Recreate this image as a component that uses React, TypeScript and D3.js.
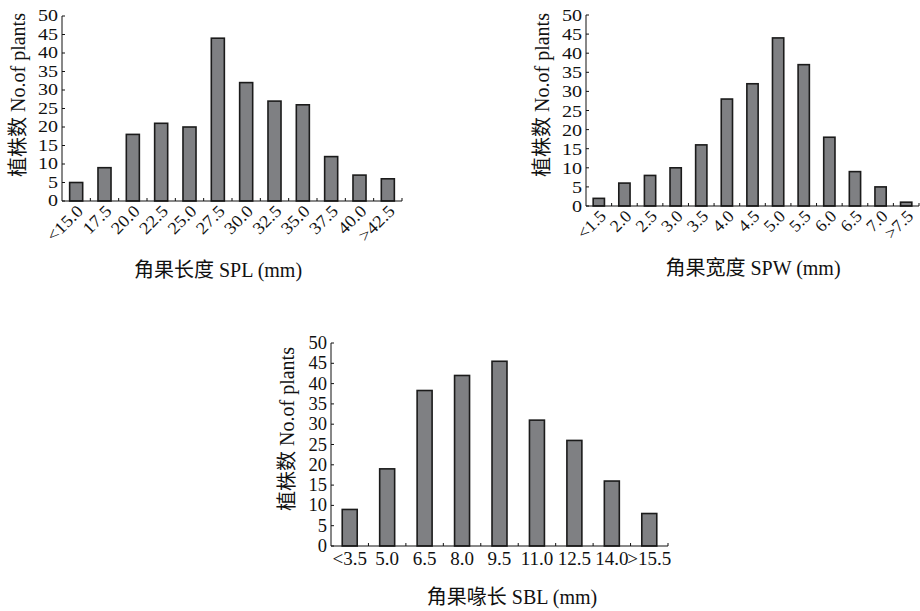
import React from "react";
import * as d3 from "d3";

// 角果长度 SPL
const splCats = ["<15.0", "17.5", "20.0", "22.5", "25.0", "27.5", "30.0", "32.5", "35.0", "37.5", "40.0", ">42.5"];
const splVals = [5, 9, 18, 21, 20, 44, 32, 27, 26, 12, 7, 6];

// 角果宽度 SPW
const spwCats = ["<1.5", "2.0", "2.5", "3.0", "3.5", "4.0", "4.5", "5.0", "5.5", "6.0", "6.5", "7.0", ">7.5"];
const spwVals = [2, 6, 8, 10, 16, 28, 32, 44, 37, 18, 9, 5, 1];

// 角果喙长 SBL
const sblCats = ["<3.5", "5.0", "6.5", "8.0", "9.5", "11.0", "12.5", "14.0", ">15.5"];
const sblVals = [9, 19, 38.3, 42, 45.5, 31, 26, 16, 8];

const yTicks = [0, 5, 10, 15, 20, 25, 30, 35, 40, 45, 50];
const yTitle = "植株数 No.of plants";

const FONT = "'Liberation Serif', 'Times New Roman', 'Noto Sans CJK SC', serif";

type HistProps = {
  cats: string[];
  vals: number[];
  x0: number;
  x1: number;
  y0: number;
  y1: number;
  barFrac: number;
  rotate: boolean;
  tickFont: number;
  tickStretch: number;
  xFont: number;
  xStretch: number;
  xTitle: string;
  xTitlePos: [number, number];
  yTitlePos: [number, number];
};

function Histogram(p: HistProps) {
  const x = d3.scaleBand<string>().domain(p.cats).range([p.x0, p.x1]).padding(0);
  const y = d3.scaleLinear().domain([0, 50]).range([p.y0, p.y1]);
  const step = x.step();
  const bw = step * p.barFrac;
  const bounds = p.cats.map((c) => (x(c) as number) + step);

  return (
    <g fontFamily={FONT} fill="#111">
      {p.cats.map((c, i) => (
        <rect
          key={c}
          x={(x(c) as number) + (step - bw) / 2}
          y={y(p.vals[i])}
          width={bw}
          height={y(0) - y(p.vals[i])}
          fill="#7f8083"
          stroke="#1b1b1b"
          strokeWidth={1.6}
        />
      ))}
      {/* axes */}
      <line x1={p.x0} x2={p.x0} y1={y(0)} y2={y(50)} stroke="#111" strokeWidth={1} />
      <line x1={p.x0} x2={p.x1} y1={y(0)} y2={y(0)} stroke="#111" strokeWidth={1} />
      {yTicks.map((t) => (
        <g key={t}>
          <line x1={p.x0} x2={p.x0 + 3} y1={y(t)} y2={y(t)} stroke="#111" />
          <text
            transform={`translate(${p.x0 - 4},${y(t)}) scale(${p.tickStretch},1)`}
            textAnchor="end"
            dominantBaseline="central"
            fontSize={p.tickFont}
          >
            {t}
          </text>
        </g>
      ))}
      {bounds.map((b, i) => (
        <line key={i} x1={b} x2={b} y1={y(0)} y2={y(0) - 3} stroke="#111" />
      ))}
      {p.cats.map((c) => {
        const cx = (x(c) as number) + step / 2;
        return p.rotate ? (
          <text
            key={c}
            transform={`translate(${cx + 4},${y(0) + 7}) rotate(-45) scale(${p.xStretch},1)`}
            textAnchor="end"
            dominantBaseline="central"
            fontSize={p.xFont}
          >
            {c}
          </text>
        ) : (
          <text
            key={c}
            transform={`translate(${cx},${y(0) + 13}) scale(${p.xStretch},1)`}
            textAnchor="middle"
            dominantBaseline="central"
            fontSize={p.xFont}
          >
            {c}
          </text>
        );
      })}
      <text
        x={p.xTitlePos[0]}
        y={p.xTitlePos[1]}
        textAnchor="middle"
        dominantBaseline="central"
        fontSize={20}
      >
        {p.xTitle}
      </text>
      <text
        transform={`translate(${p.yTitlePos[0]},${p.yTitlePos[1]}) rotate(-90)`}
        textAnchor="middle"
        dominantBaseline="central"
        fontSize={20}
      >
        {yTitle}
      </text>
    </g>
  );
}

export default function App() {
  return (
    <svg
      width={920}
      height={611}
      style={{ position: "absolute", left: 0, top: 0, background: "#fff" }}
    >
      <rect width={920} height={611} fill="#fff" />
      <Histogram
        cats={splCats}
        vals={splVals}
        x0={62}
        x1={402}
        y0={201}
        y1={16}
        barFrac={0.46}
        rotate={true}
        tickFont={16}
        tickStretch={1.25}
        xFont={17}
        xStretch={1.1}
        xTitle="角果长度 SPL (mm)"
        xTitlePos={[218, 270]}
        yTitlePos={[18, 95]}
      />
      <Histogram
        cats={spwCats}
        vals={spwVals}
        x0={586}
        x1={919}
        y0={206}
        y1={15}
        barFrac={0.44}
        rotate={true}
        tickFont={17.5}
        tickStretch={1.15}
        xFont={17}
        xStretch={1.05}
        xTitle="角果宽度 SPW (mm)"
        xTitlePos={[753, 268]}
        yTitlePos={[542, 95]}
      />
      <Histogram
        cats={sblCats}
        vals={sblVals}
        x0={331}
        x1={668}
        y0={546}
        y1={343}
        barFrac={0.4}
        rotate={false}
        tickFont={18.5}
        tickStretch={1}
        xFont={18.5}
        xStretch={1.03}
        xTitle="角果喙长 SBL (mm)"
        xTitlePos={[512, 597]}
        yTitlePos={[287, 429]}
      />
    </svg>
  );
}
